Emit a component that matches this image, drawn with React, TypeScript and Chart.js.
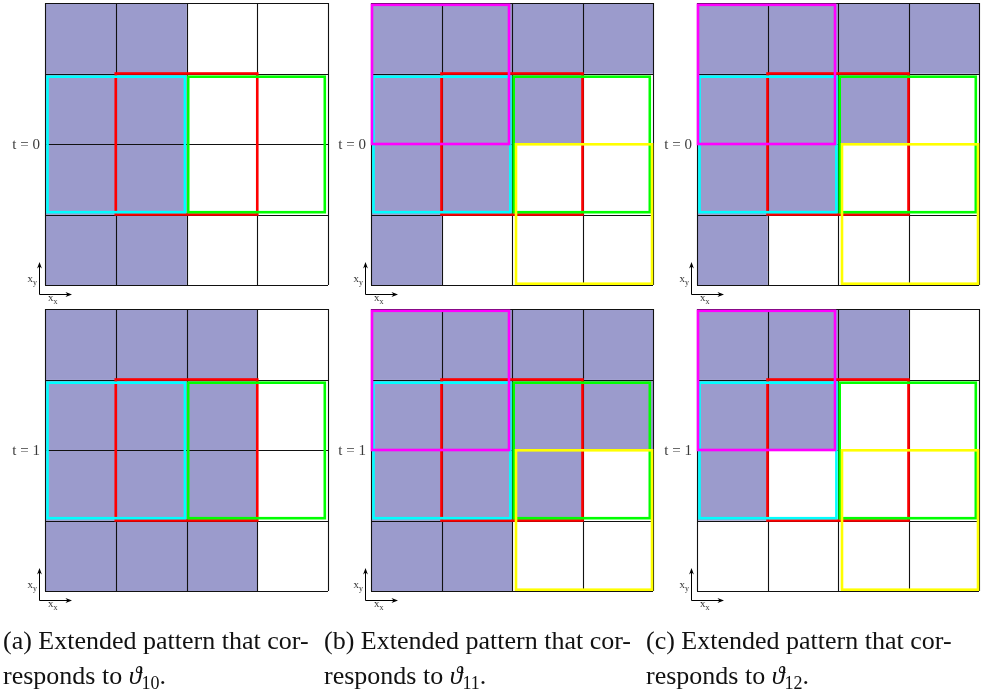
import React, { useEffect, useRef } from "react";
import { Chart, registerables } from "chart.js";

Chart.register(...registerables);

// ---------- data ----------
const rowLabels = ["row 1", "row 2", "row 3", "row 4"];
// number of shaded cells (from the left) in each row, top row first
const filledA_t0 = [2, 2, 2, 2];
const filledA_t1 = [3, 3, 3, 3];
const filledB_t0 = [4, 3, 2, 1];
const filledB_t1 = [4, 4, 3, 2];
const filledC_t0 = [4, 3, 2, 1];
const filledC_t1 = [3, 2, 1, 0];
// outlined blocks: [column start, row start, column end, row end]
const redBox = [1, 1, 3, 3];
const cyanBox = [0, 1, 2, 3];
const greenBox = [2, 1, 4, 3];
const yellowBox = [2, 2, 4, 4];
const magentaBox = [0, 0, 2, 2];
const timeLabels = ["t = 0", "t = 1"];
const captionLetters = ["(a)", "(b)", "(c)"];
const thetaIndices = ["10", "11", "12"];

// ---------- styles ----------
const CELL = "rgb(155,155,204)";
const boxStyles: Record<string, { color: string; inset: number[] }> = {
  red: { color: "#ff0000", inset: [0, 0, 0, 0] },
  cyan: { color: "#00ffff", inset: [2.5, 3.2, 1.6, 2.3] },
  green: { color: "#00ff00", inset: [1.7, 3.2, 3.2, 2.3] },
  yellow: { color: "#ffff00", inset: [4, 0.3, 1, 1.3] },
  magenta: { color: "#ff00ff", inset: [1, 1.8, 3, 0] },
};
const boxSetSmall: [string, number[]][] = [
  ["red", redBox],
  ["cyan", cyanBox],
  ["green", greenBox],
];
const boxSetFull: [string, number[]][] = [
  ["red", redBox],
  ["cyan", cyanBox],
  ["green", greenBox],
  ["yellow", yellowBox],
  ["magenta", magentaBox],
];

const PAD = { left: 45, top: 3, right: 4, bottom: 24 };

type PanelProps = {
  gl: number;
  gt: number;
  gr: number;
  gb: number;
  filled: number[];
  boxes: [string, number[]][];
  tLabel: string;
};

function arrowHead(ctx: CanvasRenderingContext2D, x: number, y: number, dx: number, dy: number) {
  const L = 6.5, W = 2.4;
  const px = -dy, py = dx;
  ctx.beginPath();
  ctx.moveTo(x, y);
  ctx.lineTo(x - dx * L + px * W, y - dy * L + py * W);
  ctx.lineTo(x - dx * L * 0.7, y - dy * L * 0.7);
  ctx.lineTo(x - dx * L - px * W, y - dy * L - py * W);
  ctx.closePath();
  ctx.fill();
}

function Panel({ gl, gt, gr, gb, filled, boxes, tLabel }: PanelProps) {
  const ref = useRef<HTMLCanvasElement | null>(null);
  const w = gr - gl + PAD.left + PAD.right;
  const h = gb - gt + PAD.top + PAD.bottom;
  useEffect(() => {
    const overlay = {
      id: "overlay",
      afterDatasetsDraw(chart: any) {
        const ctx: CanvasRenderingContext2D = chart.ctx;
        const xs = chart.scales.x;
        const ys = chart.scales.y;
        const X = (v: number) => xs.getPixelForValue(v);
        const Y = (v: number) => ys.getPixelForValue(v - 0.5);
        ctx.save();
        // grid lines
        ctx.strokeStyle = "#111";
        ctx.lineWidth = 1.1;
        ctx.beginPath();
        for (let k = 0; k <= 4; k++) {
          const x = Math.round(X(k)) + 0.5;
          ctx.moveTo(x, Y(0));
          ctx.lineTo(x, Y(4));
          const y = Math.round(Y(k)) + 0.5;
          ctx.moveTo(X(0), y);
          ctx.lineTo(X(4), y);
        }
        ctx.stroke();
        // outlined blocks
        ctx.lineWidth = 2.6;
        for (const [name, b] of boxes) {
          const st = boxStyles[name];
          const x0 = X(b[0]) + st.inset[0];
          const y0 = Y(b[1]) + st.inset[1];
          const x1 = X(b[2]) - st.inset[2];
          const y1 = Y(b[3]) - st.inset[3];
          ctx.strokeStyle = st.color;
          ctx.strokeRect(x0, y0, x1 - x0, y1 - y0);
        }
        // coordinate arrows
        const left = X(0);
        const bottom = Y(4);
        const ax = Math.round(left - 6) + 0.5;
        const ay = Math.round(bottom + 9) + 0.5;
        ctx.strokeStyle = "#000";
        ctx.fillStyle = "#000";
        ctx.lineWidth = 1;
        ctx.beginPath();
        ctx.moveTo(ax, ay);
        ctx.lineTo(ax, bottom - 20);
        ctx.moveTo(ax, ay);
        ctx.lineTo(left + 25, ay);
        ctx.stroke();
        arrowHead(ctx, ax, bottom - 23, 0, -1);
        arrowHead(ctx, left + 27, ay, 1, 0);
        ctx.fillStyle = "#333";
        ctx.textBaseline = "alphabetic";
        ctx.textAlign = "left";
        ctx.font = "11px 'Liberation Serif'";
        ctx.fillText("x", left - 17.5, bottom - 3);
        ctx.fillText("x", left + 3, ay + 6);
        ctx.font = "8px 'Liberation Serif'";
        ctx.fillText("y", left - 12, bottom - 0.5);
        ctx.fillText("x", left + 8.5, ay + 9);
        // time label
        ctx.fillStyle = "#3a3a3a";
        ctx.font = "15px 'Liberation Serif'";
        ctx.textAlign = "right";
        ctx.fillText(tLabel, left - 5, (Y(0) + Y(4)) / 2 + 4.5);
        ctx.restore();
      },
    };
    const chart = new Chart(ref.current as HTMLCanvasElement, {
      type: "bar",
      data: {
        labels: rowLabels,
        datasets: [
          {
            data: filled.map((n) => [0, n]) as any,
            backgroundColor: CELL,
            borderWidth: 0,
            barPercentage: 1,
            categoryPercentage: 1,
          },
        ],
      },
      options: {
        indexAxis: "y",
        responsive: false,
        animation: false,
        events: [],
        layout: { padding: PAD },
        scales: {
          x: { type: "linear", min: 0, max: 4, display: false },
          y: { type: "category", display: false, offset: true },
        },
        plugins: { legend: { display: false }, tooltip: { enabled: false } },
      },
      plugins: [overlay],
    });
    return () => chart.destroy();
  }, []);
  return (
    <canvas
      ref={ref}
      width={w}
      height={h}
      style={{ position: "absolute", left: gl - PAD.left, top: gt - PAD.top, width: w, height: h }}
    />
  );
}

const colLeft = [45, 371, 697];
const colRight = [328, 653, 979];
const rowTop = [3, 309];
const rowBottom = [285, 591];
const captionLeft = [3, 324, 646];

export default function App() {
  const fills = [
    [filledA_t0, filledA_t1],
    [filledB_t0, filledB_t1],
    [filledC_t0, filledC_t1],
  ];
  const boxSets = [boxSetSmall, boxSetFull, boxSetFull];
  return (
    <div style={{ position: "absolute", left: 0, top: 0, width: 982, height: 693, background: "#fff" }}>
      {[0, 1, 2].map((c) =>
        [0, 1].map((r) => (
          <Panel
            key={`${c}-${r}`}
            gl={colLeft[c]}
            gr={colRight[c]}
            gt={rowTop[r]}
            gb={rowBottom[r]}
            filled={fills[c][r]}
            boxes={boxSets[c]}
            tLabel={timeLabels[r]}
          />
        ))
      )}
      {[0, 1, 2].map((c) => (
        <div
          key={`cap-${c}`}
          style={{
            position: "absolute",
            left: captionLeft[c],
            top: 623,
            whiteSpace: "nowrap",
            fontFamily: "'Liberation Serif', serif",
            fontSize: 26,
            lineHeight: "35px",
            color: "#111",
          }}
        >
          {captionLetters[c]} Extended pattern that cor-
          <br />
          responds to <i>ϑ</i>
          <sub style={{ fontSize: 18, verticalAlign: "-5px", lineHeight: 0 }}>{thetaIndices[c]}</sub>.
        </div>
      ))}
    </div>
  );
}
